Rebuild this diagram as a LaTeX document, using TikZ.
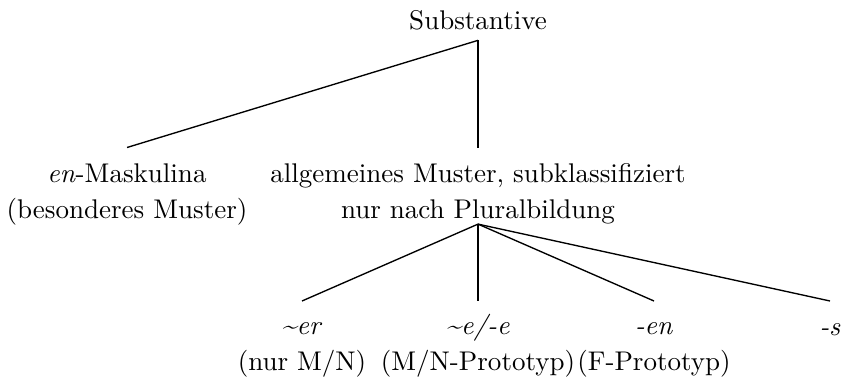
\documentclass[tikz,border=0pt]{standalone}
\usetikzlibrary{calc}
\tikzset{
 word/.style={anchor=base,inner sep=0pt,align=center,font=\fontsize{10}{13.2}\selectfont},
 topword/.style={word,text depth=4pt},
 branch/.style={draw=black,line width=.5pt}
}
\begin{document}
\begin{tikzpicture}[x=0.37pt,y=-0.37pt]
  \useasboundingbox (0,0) rectangle (842,382);
  % base = last line of each node
  \node[topword] (root) at (478,29) {Substantive};
  \node[word] (enmask) at (127,218) {\textit{en}-Maskulina\\(besonderes Muster)};
  \node[word] (general) at (478,218) {allgemeines Muster, subklassifiziert\\nur nach Pluralbildung};

  \node[word] (er) at (302,370) {\textit{\textasciitilde er}\\(nur M/N)};
  \node[word] (e) at (478,370) {\textit{\textasciitilde e/-e}\\(M/N-Prototyp)};
  \node[word] (en) at (654,370) {\textit{-en}\\(F-Prototyp)};
  \node[word] (s) at (830,335) {\textit{-s}};

  \foreach \a/\b/\d in {root/enmask/70.5,root/general/70.5,general/er/69,general/e/69,general/en/69,general/s/34}
    \draw[branch] (\a.south) -- ($(\b.base)+(0,-\d)$);
\end{tikzpicture}
\end{document}
